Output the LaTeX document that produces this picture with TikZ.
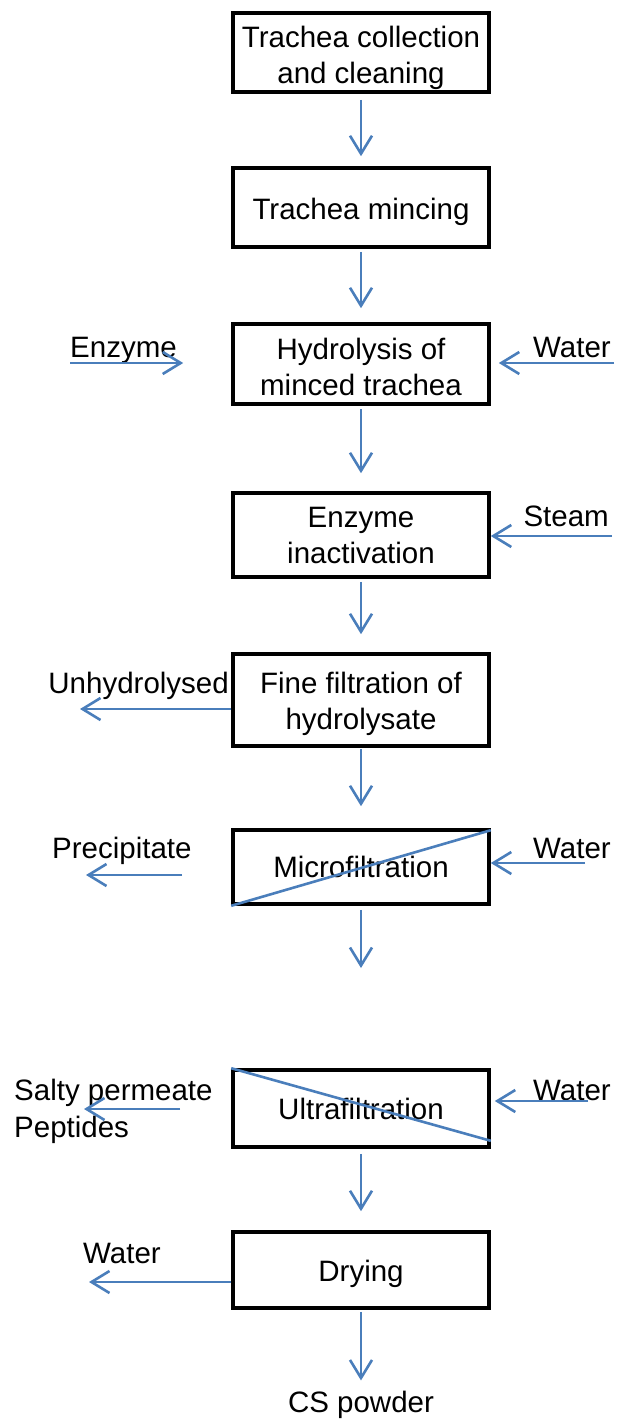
\documentclass[tikz,border=0pt]{standalone}
\usepackage{fontspec}
\setmainfont{Liberation Sans}
\usetikzlibrary{arrows.meta}
\definecolor{flowblue}{RGB}{74,126,187}
\newcommand{\boxlines}[1]{\begin{tabular}[t]{@{}c@{}}#1\end{tabular}}
\begin{document}
\begin{tikzpicture}[x=1pt,y=-1pt,
  procbox/.style={draw=black,line width=3.6pt,minimum width=256pt,inner sep=0pt},
  boxtext/.style={inner sep=0pt,anchor=base,font=\fontsize{29.5}{36}\selectfont},
  lbl/.style={inner sep=0pt,font=\fontsize{29.5}{37}\selectfont},
  flow/.style={draw=flowblue,line width=2.6pt,-{Straight Barb[length=18pt,width=22pt,line width=2.6pt]}},
  slash/.style={draw=flowblue,line width=2.6pt}]
\useasboundingbox (0,0) rectangle (616,1419);
% process boxes
\node[procbox,minimum height=79pt] (b1) at (361,52.5) {};
\node[procbox,minimum height=79pt] (b2) at (361,207.5) {};
\node[procbox,minimum height=80pt] (b3) at (361,364) {};
\node[procbox,minimum height=84pt] (b4) at (361,535) {};
\node[procbox,minimum height=92pt] (b5) at (361,700) {};
\node[procbox,minimum height=74pt] (b6) at (361,867) {};
\node[procbox,minimum height=77pt] (b7) at (361,1108.5) {};
\node[procbox,minimum height=76pt] (b8) at (361,1270) {};
% box texts
\node[boxtext] (t1) at (361,47) {\boxlines{Trachea collection\\and cleaning}};
\node[boxtext] (t2) at (361,219) {Trachea mincing};
\node[boxtext] (t3) at (361,359) {\boxlines{Hydrolysis of\\minced trachea}};
\node[boxtext] (t4) at (361,527) {\boxlines{Enzyme\\inactivation}};
\node[boxtext] (t5) at (361,693) {\boxlines{Fine filtration of\\hydrolysate}};
\node[boxtext] (t6) at (361,877) {Microfiltration};
\node[boxtext] (t7) at (361,1119) {Ultrafiltration};
\node[boxtext] (t8) at (361,1281) {Drying};
\node[lbl,anchor=base] (cs) at (361,1412) {CS powder};
% membrane lines
\draw[slash] (b6.south west) -- ([yshift=-2pt]b6.north east);
\draw[slash] (b7.north west) -- ([yshift=8pt]b7.south east);
% vertical flow
\draw[flow] ([yshift=-6pt]b1.south) -- ([yshift=10pt]b2.north);
\draw[flow] ([yshift=-3pt]b2.south) -- ([yshift=14pt]b3.north);
\draw[flow] ([yshift=-3pt]b3.south) -- ([yshift=18pt]b4.north);
\draw[flow] ([yshift=-3pt]b4.south) -- ([yshift=18pt]b5.north);
\draw[flow] ([yshift=-1pt]b5.south) -- ([yshift=22pt]b6.north);
\coordinate (mfend) at (361,968);
\draw[flow] ([yshift=-4pt]b6.south) -- (mfend);
\draw[flow] ([yshift=-5pt]b7.south) -- ([yshift=19pt]b8.north);
\draw[flow] ([yshift=-2pt]b8.south) -- ([yshift=10pt]cs.north);
% side streams
\node[lbl,anchor=base west] (enz) at (70,357) {Enzyme};
\coordinate (enzs) at (70,363);
\draw[flow] (enzs) -- ([xshift=-48pt]b3.west |- enzs);
\node[lbl,anchor=base east] (w1) at (611,357) {Water};
\coordinate (w1s) at (614,363);
\draw[flow] (w1s) -- ([xshift=8pt]b3.east |- w1s);
\node[lbl,anchor=base east] (st) at (609,526) {Steam};
\coordinate (sts) at (612,536);
\draw[flow] (sts) -- (b4.east |- sts);
\node[lbl,anchor=base east] (unh) at (229,693) {Unhydrolysed};
\coordinate (unhe) at (80,709);
\draw[flow] (b5.west |- unhe) -- (unhe);
\node[lbl,anchor=base west] (pre) at (52,858) {Precipitate};
\coordinate (pres) at (182,875);
\coordinate (pree) at (86,875);
\draw[flow] (pres) -- (pree);
\node[lbl,anchor=base east] (w2) at (611,858) {Water};
\coordinate (w2s) at (585,863);
\draw[flow] (w2s) -- (b6.east |- w2s);
\node[lbl,anchor=base west] (salt) at (14,1100) {Salty permeate};
\node[lbl,anchor=base west] (pep) at (14,1137) {Peptides};
\coordinate (salts) at (180,1109);
\coordinate (salte) at (84,1109);
\draw[flow] (salts) -- (salte);
\node[lbl,anchor=base east] (w3) at (611,1100) {Water};
\coordinate (w3s) at (588,1101);
\draw[flow] (w3s) -- ([xshift=4pt]b7.east |- w3s);
\node[lbl,anchor=base west] (w4) at (83,1263) {Water};
\coordinate (w4e) at (89,1282);
\draw[flow] (b8.west |- w4e) -- (w4e);
\end{tikzpicture}
\end{document}
